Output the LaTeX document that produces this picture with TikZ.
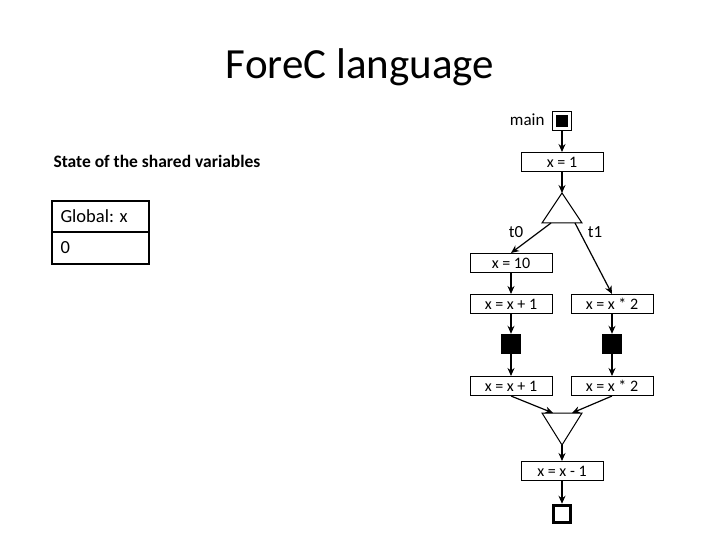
\documentclass[tikz,border=0pt]{standalone}
\usepackage{fontspec}
\setmainfont{Carlito}
\usetikzlibrary{arrows.meta}
\begin{document}
\begin{tikzpicture}[x=1pt,y=-1pt,
  box/.style={draw,line width=1pt,minimum width=82pt,minimum height=19pt,inner sep=0pt,font=\fontsize{16}{18}\selectfont},
  lbl/.style={font=\fontsize{17}{19}\selectfont},
  arr/.style={-{Stealth[length=8pt,width=7pt]},line width=1.2pt},
  blk/.style={fill=black,minimum size=20pt,inner sep=0pt}]
\useasboundingbox (0,0) rectangle (720,540);
\node[font=\fontsize{43}{48}\selectfont] (title) at (360,67) {ForeC language};
\node[anchor=west,font=\bfseries\fontsize{17.5}{20}\selectfont] (state) at (50,161) {State of the shared variables};
\draw[line width=2pt] (52,201) rectangle (149,264);
\draw[line width=2pt] (52,232) -- (149,232);
\node[anchor=west,font=\fontsize{18.5}{20}\selectfont] (glob) at (57,216) {Global: x};
\node[anchor=west,font=\fontsize{18.5}{20}\selectfont] (zero) at (57,248) {0};
% graph
\node[draw,line width=1.2pt,minimum size=19pt,inner sep=0pt] (main) at (562,121) {};
\node[blk,minimum size=12pt] (mainin) at (562,121) {};
\node[lbl,anchor=east] (mainl) at (548,120) {main};
\node[box] (x1) at (562,162) {x = 1};
\coordinate (fa) at (562,193);
\coordinate (fl) at (542,223);
\coordinate (fr) at (582,223);
\draw[line width=1pt] (fa) -- (fl) -- (fr) -- cycle;
\coordinate (fol) at (551,223);
\coordinate (for) at (575,223);
\node[box] (x10) at (511,263) {x = 10};
\node[box] (l1) at (511,304) {x = x + 1};
\node[box] (r1) at (612,304) {x = x * 2};
\node[blk] (lb) at (511,344) {};
\node[blk] (rb) at (612,344) {};
\node[box] (l2) at (511,386) {x = x + 1};
\node[box] (r2) at (612,386) {x = x * 2};
\coordinate (jl) at (542,413);
\coordinate (jr) at (582,413);
\coordinate (ja) at (562,445);
\draw[line width=1pt] (jl) -- (jr) -- (ja) -- cycle;
\coordinate (jil) at (553,413);
\coordinate (jir) at (572,413);
\node[box] (xm1) at (562,471) {x = x - 1};
\node[draw,line width=3.5pt,minimum size=17pt,inner sep=0pt] (end) at (562,514) {};
\node[lbl] (t0) at (516,232) {t0};
\node[lbl] (t1) at (595,232) {t1};
\draw[arr] (main) -- (x1);
\draw[arr] (x1) -- (fa);
\draw[arr] (fol) -- (x10.north);
\draw[arr] (for) -- (r1.north);
\draw[arr] (x10) -- (l1);
\draw[arr] (l1) -- (lb);
\draw[arr] (lb) -- (l2);
\draw[arr] (r1) -- (rb);
\draw[arr] (rb) -- (r2);
\draw[arr] (l2.south) -- (jil);
\draw[arr] (r2.south) -- (jir);
\draw[arr] (ja) -- (xm1);
\draw[arr] (xm1) -- (end);
\end{tikzpicture}
\end{document}
